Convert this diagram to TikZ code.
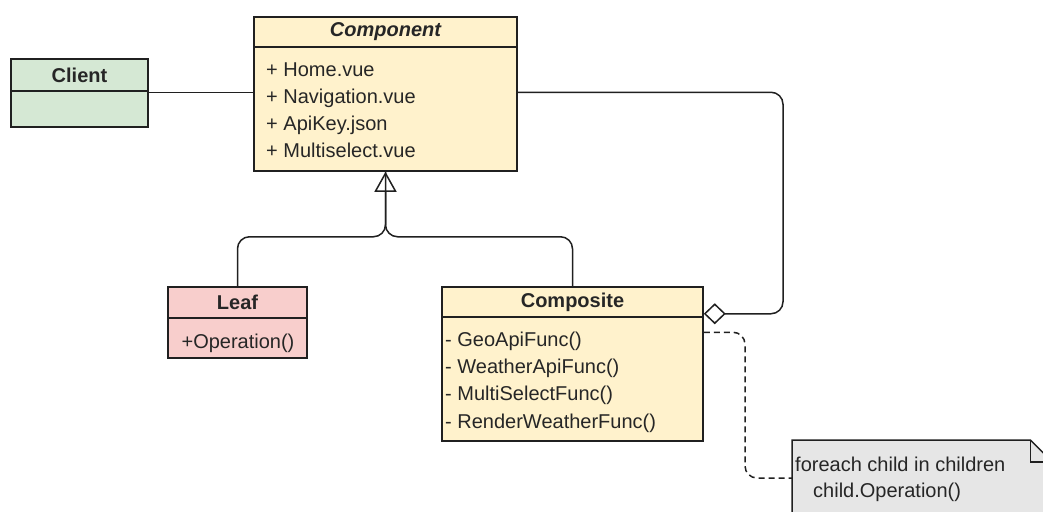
\documentclass[tikz,border=0pt]{standalone}
\usepackage{fontspec}
\setmainfont{Liberation Sans}
\usetikzlibrary{arrows.meta,calc}
\definecolor{stk}{HTML}{202020}
\definecolor{txt}{HTML}{262626}
\definecolor{yel}{HTML}{FFF2CC}
\definecolor{grn}{HTML}{D5E8D4}
\definecolor{pnk}{HTML}{F8CECC}
\definecolor{gry}{HTML}{E6E6E6}
\begin{document}
\begin{tikzpicture}[x=1pt,y=-1pt,
  box/.style={draw=stk, line width=1.5pt, inner sep=0pt, minimum width=#1},
  title/.style={font=\fontsize{20}{24}\selectfont\bfseries, text=txt},
  body/.style={font=\fontsize{20}{24}\selectfont, text=txt, inner sep=0pt, anchor=base west},
  conn/.style={draw=stk, line width=1.5pt, rounded corners=12pt},
]
\useasboundingbox (0,0) rectangle (1043,511);
\fill[white] (0,0) rectangle (1043,511);

% Client
\node[box=137pt, minimum height=32pt, fill=grn, title] (clientH) at (79.5,75) {Client};
\node[box=137pt, minimum height=36pt, fill=grn] (clientB) at (79.5,109) {};

% Component
\node[box=263pt, minimum height=30pt, fill=yel, title, font=\fontsize{20}{24}\selectfont\bfseries\itshape] (compH) at (385.5,32) {Component};
\node[box=263pt, minimum height=124pt, fill=yel] (compB) at (385.5,109) {};
\node[body] (c1t) at (266,76) {+ Home.vue};
\node[body] (c2t) at (266,103) {+ Navigation.vue};
\node[body] (c3t) at (266,130) {+ ApiKey.json};
\node[body] (c4t) at (266,157) {+ Multiselect.vue};

% Leaf
\node[box=139pt, minimum height=31pt, fill=pnk, title] (leafH) at (237.5,302.5) {Leaf};
\node[box=139pt, minimum height=40pt, fill=pnk] (leafB) at (237.5,338) {};
\node[body, anchor=base] (l1t) at (238,348) {+Operation()};

% Composite
\node[box=261pt, minimum height=30pt, fill=yel, title] (compoH) at (572.5,302) {Composite};
\node[box=261pt, minimum height=124pt, fill=yel] (compoB) at (572.5,379) {};
\node[body] (p1t) at (445,346) {- GeoApiFunc()};
\node[body] (p2t) at (445,373) {- WeatherApiFunc()};
\node[body] (p3t) at (445,400) {- MultiSelectFunc()};
\node[body] (p4t) at (445,428) {- RenderWeatherFunc()};

% Note
\node[inner sep=0pt, minimum width=260pt, minimum height=90pt, anchor=north west] (note) at (792,440) {};
\filldraw[fill=gry, draw=stk, line width=1.5pt]
  (note.north west) -- ($(note.north east)+(-22,0)$) -- ($(note.north east)+(0,22)$)
  -- (note.south east) -- (note.south west) -- cycle;
\draw[stk, line width=1.5pt] ($(note.north east)+(-22,0)$) -- ($(note.north east)+(-22,22)$) -- ($(note.north east)+(0,22)$);
\node[body] (n1t) at (795,471) {foreach child in children};
\node[body] (n2t) at (813,497) {child.Operation()};

% Client -- Component
\coordinate (cc) at ($(clientB.north east)+(0,2)$);
\draw[conn] (cc) -- (cc -| compB.west);

% Aggregation Component -- Composite
\coordinate (a1) at ($(compB.north east)+(0,46)$);
\coordinate (a2) at ($(compoH.south east)+(0,-4)$);
\coordinate (aR) at (783,0);
\draw[conn, -{Diamond[open, length=22pt, width=21pt, line width=1.5pt]}] (a1) -- (a1 -| aR) -- (a2 -| aR) -- (a2);

% Generalization
\coordinate (j) at ($(compB.south)+(0,65)$);
\draw[conn] (leafH.north) |- (j) -- (compB.south);
\draw[conn, -{Triangle[open, length=20pt, width=22pt, line width=1.5pt]}] (compoH.north) |- (j) -- (compB.south);

% Dashed note link
\coordinate (d1) at ($(compoB.north east)+(0,16)$);
\coordinate (d2) at ($(note.north west)+(0,38)$);
\coordinate (dX) at (745,0);
\draw[conn, dash pattern=on 6pt off 4pt] (d1) -- (d1 -| dX) -- (d2 -| dX) -- (d2);
\end{tikzpicture}
\end{document}
